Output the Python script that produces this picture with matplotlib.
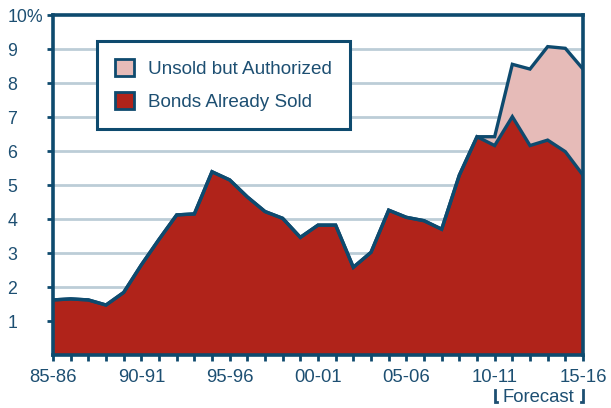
import matplotlib
matplotlib.use("Agg")
import matplotlib.pyplot as plt
from matplotlib.patches import Patch
from matplotlib.transforms import blended_transform_factory

plt.rcParams['font.family'] = ['Liberation Sans', 'DejaVu Sans']

# Fiscal years 1985-86 through 2015-16
years = ["85-86", "86-87", "87-88", "88-89", "89-90", "90-91", "91-92", "92-93",
         "93-94", "94-95", "95-96", "96-97", "97-98", "98-99", "99-00", "00-01",
         "01-02", "02-03", "03-04", "04-05", "05-06", "06-07", "07-08", "08-09",
         "09-10", "10-11", "11-12", "12-13", "13-14", "14-15", "15-16"]

# Debt service as a percent of General Fund revenues
sold = [1.62, 1.65, 1.62, 1.47, 1.84, 2.65, 3.40, 4.12, 4.15, 5.39, 5.15,
        4.65, 4.22, 4.02, 3.46, 3.82, 3.82, 2.58, 3.02, 4.26, 4.05, 3.95,
        3.70, 5.29, 6.42, 6.16, 7.01, 6.16, 6.32, 5.98, 5.29]
unsold = [0, 0, 0, 0, 0, 0, 0, 0, 0, 0, 0,
          0, 0, 0, 0, 0, 0, 0, 0, 0, 0, 0,
          0, 0, 0, 0.26, 1.54, 2.25, 2.75, 3.04, 3.12]

tick_labels = ["85-86", "90-91", "95-96", "00-01", "05-06", "10-11", "15-16"]
ytick_labels = ["1", "2", "3", "4", "5", "6", "7", "8", "9", "10%"]
series_names = ["Unsold but Authorized", "Bonds Already Sold"]
forecast_label = "Forecast"
forecast_span = ["10-11", "15-16"]

NAVY = "#0e4a6e"
TEXT = "#1d4f72"
RED = "#b0231a"
PINK = "#e6bbb8"
GRID = "#bccdd7"

W, H = 611, 408
fig = plt.figure(figsize=(W / 100, H / 100), dpi=100)
ax = fig.add_axes([53 / W, 1 - 355 / H, 530 / W, 340 / H])

x = list(range(len(years)))
total = [s + u for s, u in zip(sold, unsold)]

ax.fill_between(x, 0, sold, color=RED, lw=0, zorder=2)
ax.fill_between(x, sold, total, color=PINK, lw=0, zorder=2)
ax.plot(x, total, color=NAVY, lw=2.4, zorder=3, solid_joinstyle='miter')
ax.plot(x, sold, color=NAVY, lw=2.4, zorder=3, solid_joinstyle='miter')

ax.set_xlim(0, len(years) - 1)
ax.set_ylim(0, 10)

for v in range(1, 10):
    ax.axhline(v, color=GRID, lw=2, zorder=1)

for sp in ax.spines.values():
    sp.set_color(NAVY)
    sp.set_linewidth(2.6)
    sp.set_zorder(4)

major_pos = [years.index(t) for t in tick_labels]
ax.set_xticks(major_pos)
ax.set_xticklabels(tick_labels)
ax.set_xticks(x, minor=True)
ax.tick_params(axis='x', which='both', direction='out', length=4, width=2,
               color=NAVY, labelcolor=TEXT, labelsize=13.3, pad=6)

ax.set_yticks(range(1, 11))
ax.set_yticklabels(ytick_labels)
ax.tick_params(axis='y', direction='out', length=4, width=2, color=NAVY,
               labelcolor=TEXT, labelsize=12.8, pad=29)
for lab in ax.get_yticklabels():
    lab.set_horizontalalignment('left')

handles = [Patch(facecolor=PINK, edgecolor=NAVY, lw=2),
           Patch(facecolor=RED, edgecolor=NAVY, lw=2)]
leg = ax.legend(handles, series_names, loc='upper left',
                bbox_to_anchor=(97 / W, 1 - 41 / H), bbox_transform=fig.transFigure,
                fontsize=13.6, frameon=True, fancybox=False, framealpha=1,
                edgecolor=NAVY, handlelength=1.0, handleheight=1.0,
                handletextpad=0.75, borderpad=0.95, labelspacing=0.75,
                borderaxespad=0)
leg.get_frame().set_linewidth(2.2)
for t in leg.get_texts():
    t.set_color(TEXT)
leg.set_zorder(5)

# Forecast bracket below the axis
tr = blended_transform_factory(ax.transData, fig.transFigure)
x0, x1 = years.index(forecast_span[0]), years.index(forecast_span[1])
ax.text((x0 + x1) / 2, 1 - 398 / H, forecast_label, transform=tr,
        ha='center', va='center', fontsize=13.3, color=TEXT)
yb_top, yb_bot = 1 - 390 / H, 1 - 402 / H
foot = 0.12
ax.plot([x0, x0, x0 + foot], [yb_top, yb_bot, yb_bot], transform=tr,
        color=TEXT, lw=2, clip_on=False, solid_joinstyle='miter')
ax.plot([x1, x1, x1 - foot], [yb_top, yb_bot, yb_bot], transform=tr,
        color=TEXT, lw=2, clip_on=False, solid_joinstyle='miter')

fig.savefig("out.png", dpi=100)
